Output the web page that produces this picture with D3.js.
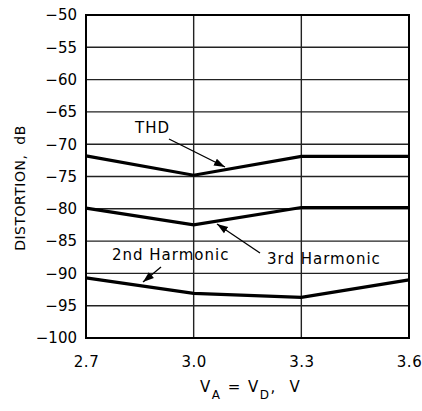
<!DOCTYPE html>
<html><head><meta charset="utf-8">
<script src="https://cdn.jsdelivr.net/npm/d3@7"></script>
<style>
body{margin:0;background:#fff;}
text{font-family:"DejaVu Sans",sans-serif;fill:#000;}
</style></head>
<body><svg id="c" width="422" height="411"></svg>
<script>
const xTicks = [2.7, 3.0, 3.3, 3.6];
const yTicks = [-50,-55,-60,-65,-70,-75,-80,-85,-90,-95,-100];
const voltage = [2.7, 3.0, 3.3, 3.6];
const thd = [-71.8, -74.8, -71.9, -71.9];
const third = [-79.9, -82.5, -79.8, -79.8];
const second = [-90.7, -93.1, -93.7, -91.0];

const svg = d3.select("#c");
const L=86, R=409, T=15, B=338;
const x = d3.scaleLinear().domain([2.7,3.6]).range([L,R]);
const y = d3.scaleLinear().domain([-100,-50]).range([B,T]);

// grid
svg.append("g").selectAll("line").data(yTicks).join("line")
  .attr("x1",L).attr("x2",R).attr("y1",d=>y(d)).attr("y2",d=>y(d))
  .attr("stroke","#222").attr("stroke-width",1.4);
svg.append("g").selectAll("line").data(xTicks).join("line")
  .attr("y1",T).attr("y2",B).attr("x1",d=>x(d)).attr("x2",d=>x(d))
  .attr("stroke","#222").attr("stroke-width",1.4);
svg.append("rect").attr("x",L).attr("y",T).attr("width",R-L).attr("height",B-T)
  .attr("fill","none").attr("stroke","#000").attr("stroke-width",2);

// axes labels
const yAxis = d3.axisLeft(y).tickValues(yTicks).tickSize(0).tickPadding(9)
  .tickFormat(d=>String(d).replace("-","\u2212"));
const gy = svg.append("g").attr("transform",`translate(${L},0)`).call(yAxis);
gy.select(".domain").remove();
gy.selectAll("text").style("font-size","15px").attr("font-family",null);

const xAxis = d3.axisBottom(x).tickValues(xTicks).tickSize(0).tickPadding(18)
  .tickFormat(d3.format(".1f"));
const gx = svg.append("g").attr("transform",`translate(0,${B})`).call(xAxis);
gx.select(".domain").remove();
gx.selectAll("text").style("font-size","15px").style("letter-spacing","0.5px").attr("font-family",null);

// series
const line = d3.line().x((d,i)=>x(voltage[i])).y(d=>y(d));
[thd, third, second].forEach(s=>{
  svg.append("path").attr("d",line(s)).attr("fill","none")
    .attr("stroke","#000").attr("stroke-width",3.2).attr("stroke-linejoin","miter");
});

// arrows
svg.append("defs").append("marker").attr("id","ah").attr("viewBox","0 0 10 10")
  .attr("refX",10).attr("refY",5).attr("markerWidth",11).attr("markerHeight",11)
  .attr("markerUnits","userSpaceOnUse").attr("orient","auto")
  .append("path").attr("d","M0,1.5 L10,5 L0,8.5 Z").attr("fill","#000");
const arrows = [[169,139,225,167],[260,253,217,224],[161,267,143,282]];
svg.append("g").selectAll("line").data(arrows).join("line")
  .attr("x1",d=>d[0]).attr("y1",d=>d[1]).attr("x2",d=>d[2]).attr("y2",d=>d[3])
  .attr("stroke","#000").attr("stroke-width",1.3).attr("marker-end","url(#ah)");

const anno = [["THD",135,133],["3rd Harmonic",267,264],["2nd Harmonic",112,260]];
svg.append("g").selectAll("text").data(anno).join("text")
  .attr("x",d=>d[1]).attr("y",d=>d[2]).text(d=>d[0])
  .style("font-size","15px").style("letter-spacing","1px");

// axis titles
const xt = svg.append("text").attr("x",200).attr("y",392).style("font-size","15px")
  .style("white-space","pre").style("letter-spacing","1.5px");
xt.append("tspan").text("V");
xt.append("tspan").attr("dy",7).style("font-size","12px").text("A");
xt.append("tspan").attr("dy",-7).text(" = V");
xt.append("tspan").attr("dy",7).style("font-size","12px").text("D");
xt.append("tspan").attr("dy",-7).text(",  V");

svg.append("text").attr("transform","translate(25,188) rotate(-90)")
  .attr("text-anchor","middle").style("font-size","14px").style("white-space","pre")
  .style("letter-spacing","0.5px")
  .text("DISTORTION,  dB");
</script></body></html>
